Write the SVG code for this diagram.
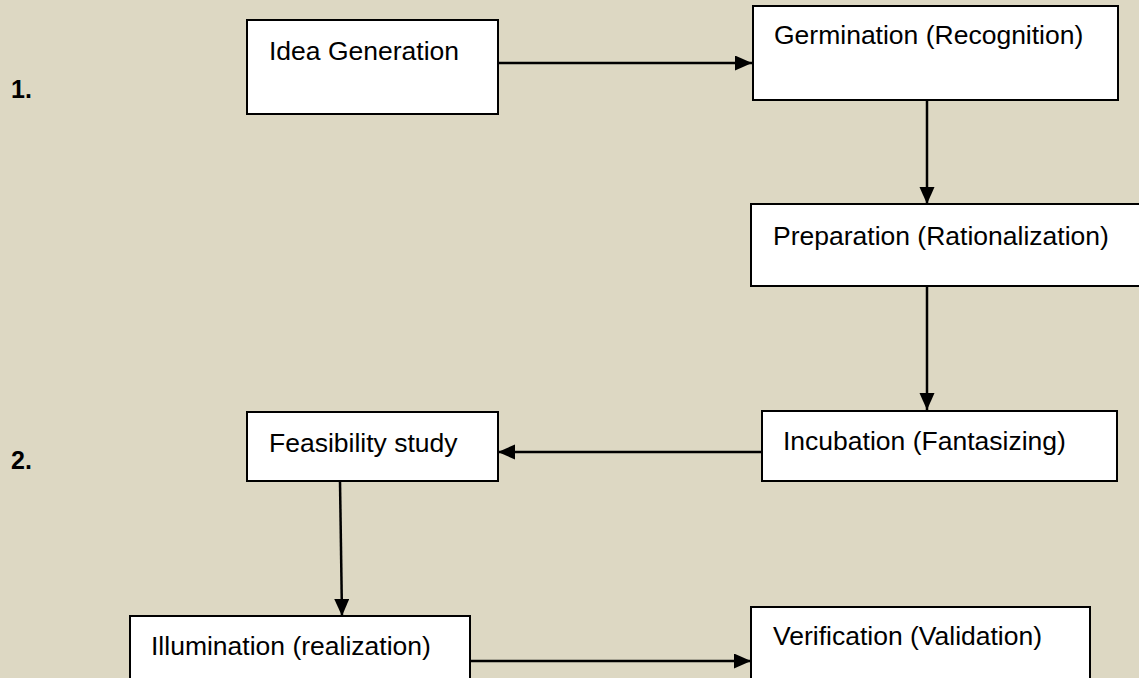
<svg xmlns="http://www.w3.org/2000/svg" width="1139" height="678" viewBox="0 0 1139 678">
  <style>
    .box { fill: #ffffff; stroke: #000000; stroke-width: 2; }
    .lbl { font-family: "Liberation Sans", Arial, sans-serif; font-size: 26.5px; fill: #000000; }
    .num { font-family: "Liberation Sans", Arial, sans-serif; font-size: 25px; font-weight: bold; fill: #000000; }
    .conn { stroke: #000000; stroke-width: 2.5; fill: none; marker-end: url(#arrow); }
  </style>
  <defs>
    <marker id="arrow" markerUnits="userSpaceOnUse" markerWidth="18" markerHeight="16" refX="17" refY="7.5" orient="auto">
      <path d="M0,0 L17,7.5 L0,15 Z" fill="#000000"/>
    </marker>
  </defs>
  <rect x="0" y="0" width="1139" height="678" fill="#DDD8C3"/>

  <text class="num" x="11" y="98">1.</text>
  <text class="num" x="11" y="469">2.</text>

  <g id="connectors">
    <line class="conn" x1="498" y1="63" x2="752" y2="63"/>
    <line class="conn" x1="927" y1="100" x2="927" y2="204"/>
    <line class="conn" x1="927" y1="286" x2="927" y2="410"/>
    <line class="conn" x1="762" y1="452" x2="498" y2="452"/>
    <line class="conn" x1="340" y1="481" x2="342" y2="616"/>
    <line class="conn" x1="470" y1="661" x2="751" y2="661"/>
  </g>

  <g id="idea-generation">
    <rect class="box" x="247" y="20" width="251" height="94"/>
    <text class="lbl" x="269" y="60">Idea Generation</text>
  </g>
  <g id="germination">
    <rect class="box" x="753" y="6" width="365" height="94"/>
    <text class="lbl" x="774" y="44">Germination (Recognition)</text>
  </g>
  <g id="preparation">
    <rect class="box" x="751" y="204" width="400" height="82"/>
    <text class="lbl" x="773" y="245">Preparation (Rationalization)</text>
  </g>
  <g id="incubation">
    <rect class="box" x="762" y="411" width="355" height="70"/>
    <text class="lbl" x="783" y="450">Incubation (Fantasizing)</text>
  </g>
  <g id="feasibility">
    <rect class="box" x="247" y="412" width="251" height="69"/>
    <text class="lbl" x="269" y="452">Feasibility study</text>
  </g>
  <g id="illumination">
    <rect class="box" x="130" y="616" width="340" height="80"/>
    <text class="lbl" x="151" y="655">Illumination (realization)</text>
  </g>
  <g id="verification">
    <rect class="box" x="751" y="607" width="339" height="90"/>
    <text class="lbl" x="773" y="645">Verification (Validation)</text>
  </g>
</svg>
